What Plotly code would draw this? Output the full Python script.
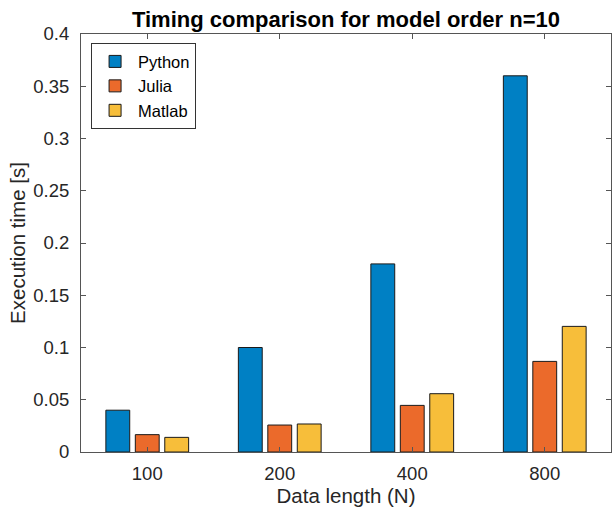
import plotly.graph_objects as go

categories = ["100", "200", "400", "800"]
python_times = [0.040, 0.100, 0.180, 0.360]
julia_times = [0.0166, 0.0258, 0.0446, 0.0867]
matlab_times = [0.0140, 0.0268, 0.0558, 0.1202]
series_names = ["Python", "Julia", "Matlab"]
series_colors = ["#0080C4", "#EB6A2B", "#F7BE3A"]
y_ticks = [0, 0.05, 0.1, 0.15, 0.2, 0.25, 0.3, 0.35, 0.4]
y_ticklabels = ["0", "0.05", "0.1", "0.15", "0.2", "0.25", "0.3", "0.35", "0.4"]

FONT = "Liberation Sans, Arial, Helvetica, sans-serif"
AX = "#555555"
TXT = "#262626"

fig = go.Figure()
for name, vals, col in zip(series_names, [python_times, julia_times, matlab_times], series_colors):
    fig.add_trace(go.Bar(
        x=categories, y=vals, name=name,
        marker=dict(color=col, line=dict(color="#1a1a1a", width=1)),
    ))

fig.update_layout(
    width=612, height=508,
    margin=dict(l=81, r=1, t=34, b=56, autoexpand=False),
    paper_bgcolor="white", plot_bgcolor="white",
    barmode="group", bargap=0.333, bargroupgap=0.19,
    font=dict(family=FONT, color=TXT, size=18),
    title=dict(
        text="<b>Timing comparison for model order n=10</b>",
        x=0.5, xref="paper", xanchor="center",
        y=(508 - 19) / 508, yref="container", yanchor="middle",
        font=dict(size=22, color="black", family=FONT),
    ),
    legend=dict(
        x=0.019, y=0.978, xanchor="left", yanchor="top",
        bgcolor="white", bordercolor="#333333", borderwidth=1,
        font=dict(size=16.5, color="black", family=FONT),
        tracegroupgap=0, itemwidth=36,
    ),
    showlegend=True,
)

fig.update_xaxes(
    type="category", categoryorder="array", categoryarray=categories,
    range=[-0.5, 3.5],
    showline=True, linecolor=AX, linewidth=1, mirror="ticks",
    ticks="inside", ticklen=5, tickcolor=AX, tickwidth=1,
    showgrid=False, zeroline=False,
    tickfont=dict(size=18.5, color=TXT),
    ticklabelstandoff=5,
    title=dict(text="Data length (N)", font=dict(size=20.5, color=TXT), standoff=5),
    automargin=False,
)
fig.update_yaxes(
    range=[0, 0.4],
    tickmode="array", tickvals=y_ticks, ticktext=y_ticklabels,
    showline=True, linecolor=AX, linewidth=1, mirror="ticks",
    ticks="inside", ticklen=5, tickcolor=AX, tickwidth=1,
    showgrid=False, zeroline=False,
    tickfont=dict(size=18.5, color=TXT),
    ticklabelstandoff=7,
    title=dict(text="Execution time [s]", font=dict(size=20.5, color=TXT), standoff=2),
    automargin=False,
)

fig.write_html(
    "out.html",
    config={"displayModeBar": False},
    post_script="document.body.style.margin='0px';document.body.style.overflow='hidden';",
)
